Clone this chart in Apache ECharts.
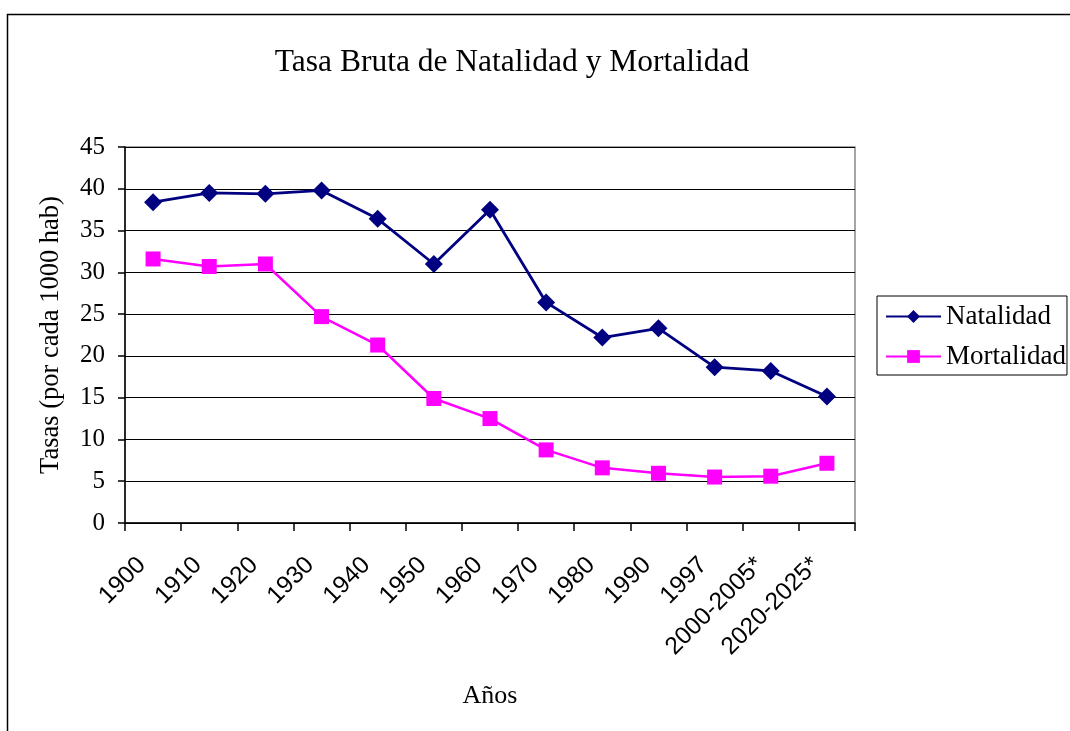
<!DOCTYPE html>
<html>
<head>
<meta charset="utf-8">
<script src="https://cdn.jsdelivr.net/npm/echarts@6/dist/echarts.min.js"></script>
<style>
  html, body { margin: 0; padding: 0; background: #fff; }
  #chart { width: 1070px; height: 731px; }
</style>
</head>
<body>
<div id="chart"></div>
<script>
const categories = ['1900', '1910', '1920', '1930', '1940', '1950', '1960', '1970', '1980', '1990', '1997', '2000-2005*', '2020-2025*']
const natalidad = [38.4, 39.5, 39.4, 39.8, 36.4, 31.0, 37.5, 26.4, 22.2, 23.3, 18.65, 18.2, 15.15]
const mortalidad = [31.6, 30.7, 31.0, 24.7, 21.3, 14.9, 12.5, 8.75, 6.6, 5.95, 5.5, 5.6, 7.15]
const yTicks = { min: 0, max: 45, interval: 5 }

const serif = '"Liberation Serif", "Times New Roman", serif'
const sans = '"Liberation Sans", Arial, sans-serif'

const chart = echarts.init(document.getElementById('chart'))

const option = {
  animation: false,
  backgroundColor: '#fff',
  title: {
    text: 'Tasa Bruta de Natalidad y Mortalidad',
    left: 507,
    textAlign: 'center',
    top: 42,
    textStyle: { fontFamily: serif, fontSize: 31.5, fontWeight: 'normal', color: '#000' }
  },
  graphic: [
    {
      type: 'rect',
      shape: { x: 7.5, y: 14.5, width: 1200, height: 900 },
      style: { fill: 'none', stroke: '#000', lineWidth: 1.5 },
      silent: true
    },
    {
      type: 'rect',
      shape: { x: 125, y: 147, width: 730, height: 376 },
      style: { fill: 'none', stroke: '#888', lineWidth: 1.5 },
      silent: true
    }
  ],
  legend: {
    orient: 'vertical',
    left: 877,
    top: 296,
    borderColor: '#000',
    borderWidth: 1,
    padding: [7, 1, 5, 8],
    itemGap: 13,
    itemWidth: 55,
    itemHeight: 16,
    textStyle: { fontFamily: serif, fontSize: 27, color: '#000', padding: [0, 0, 0, 0] },
    data: ['Natalidad', 'Mortalidad']
  },
  grid: { left: 125, top: 147, right: 215, bottom: 208, containLabel: false },
  xAxis: {
    type: 'category',
    data: categories,
    boundaryGap: true,
    name: 'Años',
    nameLocation: 'middle',
    nameGap: 160,
    nameTextStyle: { fontFamily: serif, fontSize: 26, color: '#000' },
    axisLine: { lineStyle: { color: '#000', width: 1.5 } },
    axisTick: { show: true, length: 8, lineStyle: { color: '#000', width: 1.5 } },
    axisLabel: { rotate: 45, margin: 27, padding: [0, 16, 0, 0], fontFamily: sans, fontSize: 24.5, color: '#000', interval: 0 },
    splitLine: { show: false }
  },
  yAxis: {
    type: 'value',
    min: yTicks.min,
    max: yTicks.max,
    interval: yTicks.interval,
    name: 'Tasas (por cada 1000 hab)',
    nameLocation: 'middle',
    nameGap: 60,
    nameTextStyle: { fontFamily: serif, fontSize: 26.5, color: '#000' },
    axisLine: { show: true, lineStyle: { color: '#000', width: 1.5 } },
    axisTick: { show: true, length: 7, lineStyle: { color: '#000', width: 1.5 } },
    axisLabel: { margin: 20, fontFamily: serif, fontSize: 25, color: '#000' },
    splitLine: { show: true, lineStyle: { color: '#000', width: 1.2 } }
  },
  series: [
    {
      name: 'Natalidad',
      type: 'line',
      data: natalidad,
      symbol: 'diamond',
      symbolSize: 18,
      lineStyle: { color: '#000080', width: 2.8 },
      itemStyle: { color: '#000080' }
    },
    {
      name: 'Mortalidad',
      type: 'line',
      data: mortalidad,
      symbol: 'rect',
      symbolSize: 15,
      lineStyle: { color: '#ff00ff', width: 2.5 },
      itemStyle: { color: '#ff00ff' }
    }
  ]
}

chart.setOption(option)
</script>
</body>
</html>
